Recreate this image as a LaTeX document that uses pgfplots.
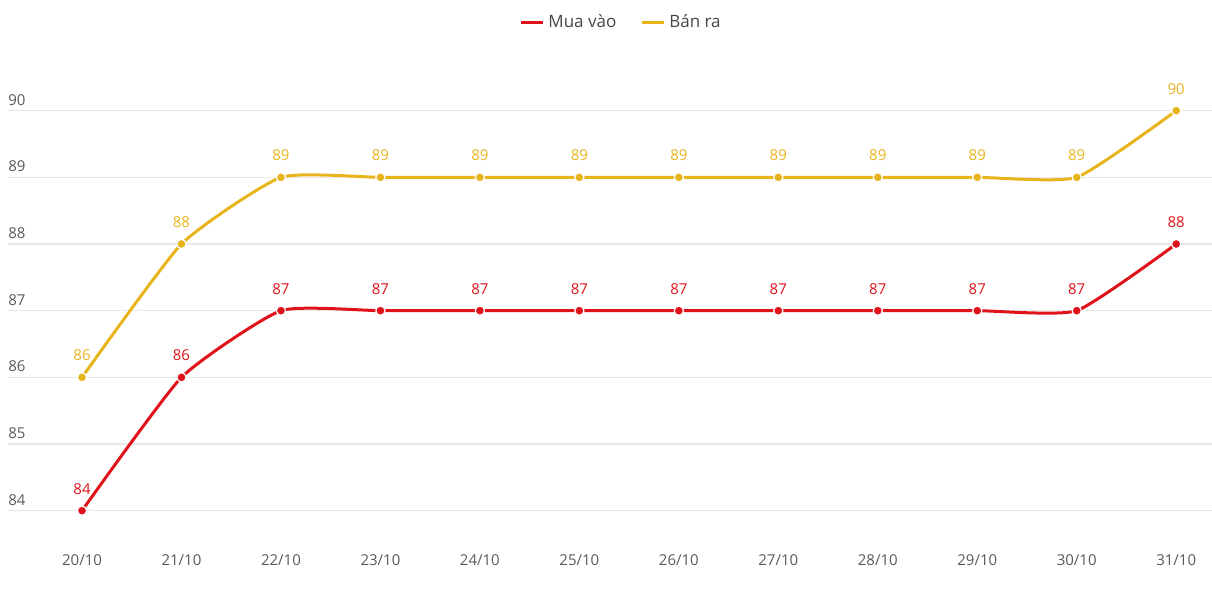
\documentclass[border=0pt]{standalone}
\usepackage{fontspec}
\setmainfont{Open Sans}
\usepackage{pgfplots}
\pgfplotsset{compat=1.18}
\definecolor{mua}{RGB}{224,18,26}
\definecolor{ban}{RGB}{231,180,28}
\definecolor{gridc}{RGB}{232,232,232}
\definecolor{tickc}{RGB}{90,90,90}
\definecolor{legc}{RGB}{70,70,70}

\begin{document}
\begin{tikzpicture}
\begin{axis}[
  scale only axis, width=602pt, height=250pt,
  xmin=-0.744, xmax=11.36, ymin=83.5, ymax=91,
  axis line style={draw=none},
  major tick length=0pt,
  ytick={84,85,86,87,88,89,90},
  ymajorgrids, grid style={gridc, line width=0.6pt},
  xtick={0,...,11},
  xticklabels={20/10,21/10,22/10,23/10,24/10,25/10,26/10,27/10,28/10,29/10,30/10,31/10},
  /pgf/number format/assume math mode=true,
  tick label style={font=\fontsize{7.5}{8}\selectfont, text=tickc},
  yticklabel style={anchor=south west, inner sep=0pt, yshift=2.5pt},
  xticklabel style={yshift=-2pt},
  clip=false,
  legend style={at={(0.51,1.044)}, anchor=center, draw=none, fill=none,
    legend columns=2, font=\fontsize{8.5}{9}\selectfont, text=legc,
    /tikz/every even column/.append style={column sep=10pt}},
  legend image code/.code={\draw[#1, mark=none, line width=1.5pt] (0pt,0pt) -- (11pt,0pt);},
  every axis plot/.append style={line width=1.5pt, smooth, tension=0.3,
    mark=*, mark size=2.3pt},
  nodes near coords,
  every node near coord/.append style={font=\fontsize{7.5}{8}\selectfont, yshift=4.5pt},
]
\addplot[mua, mark options={fill=mua, draw=white, line width=0.6pt},
  every node near coord/.append style={text=mua}] coordinates {
  (0,84) (1,86) (2,87) (3,87) (4,87) (5,87) (6,87) (7,87) (8,87) (9,87) (10,87) (11,88)};
\addlegendentry{Mua vào}
\addplot[ban, mark options={fill=ban, draw=white, line width=0.6pt},
  every node near coord/.append style={text=ban}] coordinates {
  (0,86) (1,88) (2,89) (3,89) (4,89) (5,89) (6,89) (7,89) (8,89) (9,89) (10,89) (11,90)};
\addlegendentry{Bán ra}
\end{axis}
\pgfresetboundingbox
\path ([shift={(-4pt,-28pt)}]current axis.south west) rectangle ([shift={(0pt,22pt)}]current axis.north east);
\end{tikzpicture}
\end{document}
